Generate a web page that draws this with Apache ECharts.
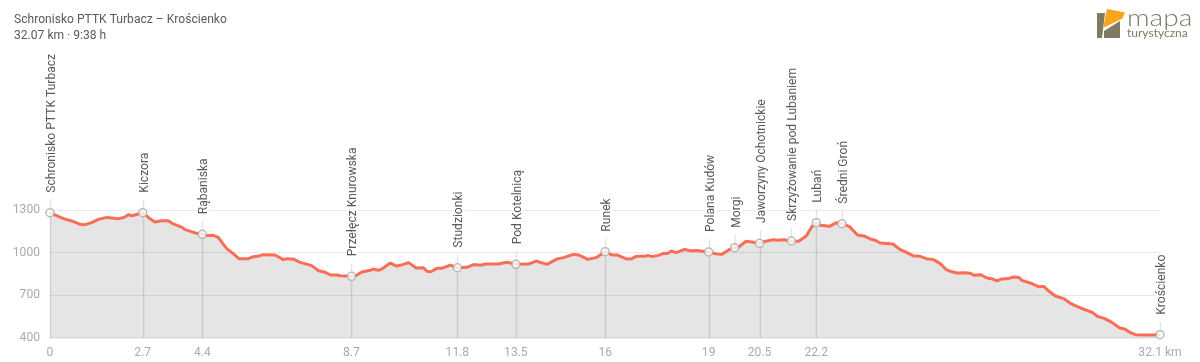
<!DOCTYPE html>
<html>
<head>
<meta charset="utf-8">
<style>
  html, body { margin: 0; padding: 0; background: #fff; }
  #chart { width: 1200px; height: 362px; }
</style>
<script src="https://cdn.jsdelivr.net/npm/echarts@6/dist/echarts.min.js"></script>
</head>
<body>
<div id="chart"></div>
<script>
const titleText = 'Schronisko PTTK Turbacz – Krościenko\n32.07 km · 9:38 h';

const profileKm = [
  0, 0.14, 0.39, 0.63, 0.87, 1.01, 1.2, 1.4, 1.64, 1.97, 2.14, 2.26, 2.36, 2.68, 2.86, 3.03, 3.23, 3.42, 3.56, 3.8,
  3.9, 4.24, 4.4, 4.53, 4.72, 4.86, 5.1, 5.25, 5.46, 5.73, 5.88, 6.05, 6.17, 6.5, 6.74, 6.86, 7.05, 7.23, 7.56, 7.76,
  7.95, 8.11, 8.29, 8.38, 8.71, 8.82, 9.01, 9.25, 9.33, 9.49, 9.63, 9.83, 10.02, 10.12, 10.36, 10.58, 10.79, 10.89, 11, 11.18,
  11.32, 11.56, 11.77, 12.04, 12.24, 12.43, 12.6, 12.96, 13.2, 13.46, 13.83, 14.04, 14.36, 14.64, 14.84, 15.12, 15.27, 15.54, 15.8, 16.04,
  16.23, 16.38, 16.67, 16.81, 16.94, 17.2, 17.27, 17.39, 17.58, 17.73, 17.85, 17.95, 18.09, 18.33, 18.5, 18.69, 19.03, 19.22, 19.41, 19.61,
  19.78, 19.9, 20.11, 20.33, 20.5, 20.67, 20.91, 21, 21.2, 21.42, 21.63, 21.85, 22.01, 22.14, 22.25, 22.52, 22.72, 22.88, 23.1, 23.33,
  23.55, 23.7, 23.84, 23.99, 24.35, 24.57, 24.76, 24.93, 25.14, 25.32, 25.53, 25.72, 25.9, 26.01, 26.2, 26.4, 26.59, 26.7, 26.88, 27.07,
  27.2, 27.36, 27.5, 27.7, 27.84, 27.99, 28.08, 28.32, 28.56, 28.71, 28.9, 29.05, 29.29, 29.48, 29.67, 29.87, 30.11, 30.28, 30.46, 30.68,
  30.91, 31.05, 31.21, 31.36, 31.7, 32.07
];
const profileElev = [
  1281, 1265, 1239, 1223, 1199, 1197, 1211, 1234, 1248, 1239, 1248, 1267, 1260, 1281, 1244, 1216, 1225, 1225, 1202, 1180,
  1162, 1136, 1129, 1120, 1122, 1108, 1030, 1002, 958, 958, 972, 977, 986, 984, 951, 958, 953, 932, 909, 873,
  862, 843, 843, 838, 834, 836, 864, 876, 885, 876, 892, 927, 906, 911, 930, 892, 894, 869, 866, 890,
  890, 913, 894, 897, 916, 911, 920, 920, 932, 918, 920, 941, 918, 955, 965, 988, 984, 953, 967, 1007,
  984, 984, 955, 958, 974, 974, 981, 972, 981, 995, 995, 1012, 1000, 1023, 1014, 1016, 1005, 993, 988, 1019,
  1035, 1040, 1080, 1073, 1066, 1080, 1091, 1087, 1091, 1082, 1080, 1117, 1183, 1211, 1192, 1185, 1211, 1204, 1183, 1124,
  1115, 1096, 1087, 1068, 1061, 1021, 1000, 979, 974, 958, 951, 923, 880, 869, 857, 859, 855, 841, 845, 822,
  817, 801, 815, 819, 829, 826, 805, 787, 761, 763, 721, 695, 677, 644, 623, 602, 580, 550, 538, 510,
  470, 463, 438, 423, 421, 423
];

const waypointNames = [
  'Schronisko PTTK Turbacz', 'Kiczora', 'Rąbaniska', 'Przełęcz Knurowska', 'Studzionki', 'Pod Kotelnicą', 'Runek',
  'Polana Kudów', 'Morgi', 'Jaworzyny Ochotnickie', 'Skrzyżowanie pod Lubaniem', 'Lubań', 'Średni Groń', 'Krościenko'
];
const waypointKm = [0, 2.68, 4.4, 8.71, 11.77, 13.46, 16.04, 19.03, 19.78, 20.5, 21.42, 22.14, 22.88, 32.07];
const waypointElev = [1281, 1281, 1129, 834, 894, 918, 1007, 1005, 1035, 1066, 1082, 1211, 1204, 423];

const xTickValues = [0, 2.68, 4.4, 8.71, 11.77, 13.46, 16.04, 19.03, 20.5, 22.14, 32.07];
const xTickLabels = ['0', '2.7', '4.4', '8.7', '11.8', '13.5', '16', '19', '20.5', '22.2', '32.1 km'];
const yTicks = [400, 700, 1000, 1300];

const FONT = 'Roboto';
const LOGO = '#7d7b64';
const chart = echarts.init(document.getElementById('chart'));

chart.setOption({
  animation: false,
  backgroundColor: '#fff',
  title: {
    text: titleText,
    left: 14,
    top: 12,
    padding: 0,
    textStyle: { fontFamily: FONT, fontSize: 12.1, fontWeight: 'normal', lineHeight: 16, color: '#5a5a5a' }
  },
  grid: { left: 50, right: 40, top: 210, bottom: 24 },
  xAxis: {
    type: 'value',
    min: 0,
    max: 32.07,
    splitLine: { show: false },
    axisTick: { show: false },
    axisLine: { show: true, onZero: false, lineStyle: { color: '#f0f0f0', width: 2 } },
    axisLabel: {
      customValues: xTickValues,
      formatter: (val) => xTickLabels[xTickValues.indexOf(val)],
      color: '#aaa',
      fontFamily: FONT,
      fontSize: 12.1,
      margin: 9
    }
  },
  yAxis: {
    type: 'value',
    min: 400,
    max: 1300,
    axisLine: { show: false },
    axisTick: { show: false, customValues: yTicks },
    splitLine: { show: true, lineStyle: { color: '#eaeaea' } },
    axisLabel: {
      customValues: yTicks,
      formatter: (val) => String(val),
      color: '#aaa',
      fontFamily: FONT,
      fontSize: 12.1,
      margin: 10
    }
  },
  series: [
    {
      type: 'line',
      z: 2,
      data: profileKm.map((km, i) => [km, profileElev[i]]),
      symbol: 'none',
      lineStyle: { color: '#f96e54', width: 3 },
      areaStyle: { color: 'rgba(0,0,0,0.1)', opacity: 1, origin: 'start' }
    },
    {
      // stems and rotated names of the waypoints; only waypoints with a tick reach the axis
      type: 'custom',
      z: 3,
      silent: true,
      coordinateSystem: 'cartesian2d',
      data: waypointKm.map((km, i) => [km, waypointElev[i]]),
      renderItem(params, api) {
        const km = api.value(0);
        const p = api.coord([km, api.value(1)]);
        const base = api.coord([km, 400]);
        const x = Math.round(p[0]) + 0.5;
        const y1 = xTickValues.includes(km) ? base[1] : p[1];
        return {
          type: 'group',
          children: [
            {
              type: 'line',
              shape: { x1: x, y1: y1, x2: x, y2: p[1] - 13 },
              style: { stroke: 'rgba(0,0,0,0.1)', lineWidth: 1.5 }
            },
            {
              type: 'text',
              x: x + 1,
              y: p[1] - 20,
              rotation: Math.PI / 2,
              style: {
                text: waypointNames[params.dataIndex],
                fontFamily: FONT,
                fontSize: 12.1,
                fill: '#5a5a5a',
                align: 'left',
                verticalAlign: 'middle',
                backgroundColor: '#fff'
              }
            }
          ]
        };
      }
    },
    {
      type: 'scatter',
      z: 4,
      silent: true,
      data: waypointKm.map((km, i) => [km, waypointElev[i]]),
      symbol: 'circle',
      symbolSize: 8,
      itemStyle: { color: '#fff', borderColor: '#aaa', borderWidth: 1.5 }
    }
  ],
  graphic: [
    { type: 'polygon', shape: { points: [[1097, 13], [1105, 13], [1102, 38], [1097, 38]] }, style: { fill: LOGO } },
    { type: 'polygon', shape: { points: [[1104, 38], [1104, 31], [1120, 21], [1120, 38]] }, style: { fill: LOGO } },
    { type: 'polygon', shape: { points: [[1107, 9], [1125, 12.5], [1122.5, 18.5], [1103, 28]] }, style: { fill: '#f9a51a' } },
    { type: 'text', x: 1127, y: 6, scaleX: 1.17, style: { text: 'mapa', fontFamily: 'Lato', fontWeight: 300, fontSize: 24, fill: LOGO } },
    { type: 'text', x: 1127, y: 27, style: { text: 'turystyczna', fontFamily: 'Lato', fontSize: 12, fill: LOGO } }
  ]
});
</script>
</body>
</html>
